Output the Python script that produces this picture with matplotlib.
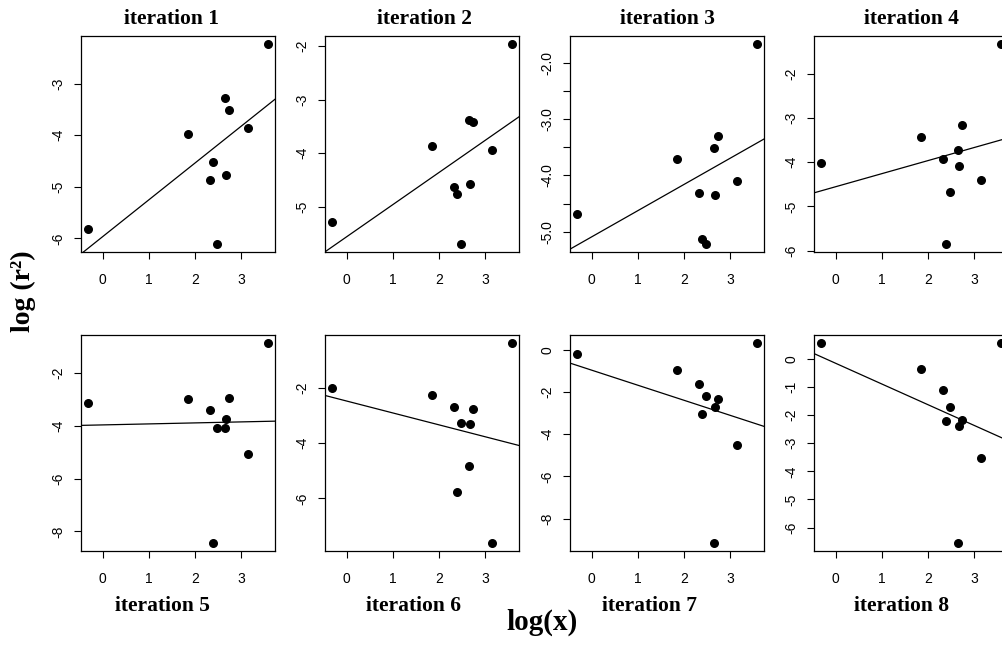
import numpy as np
import matplotlib
matplotlib.use("Agg")
import matplotlib.pyplot as plt

# shared x values (log x), same for every iteration
log_x = [-0.31, 1.85, 2.32, 2.40, 2.47, 2.65, 2.68, 2.73, 3.15, 3.58]

# log(r^2) for each iteration, in the order of log_x
iter1 = [-5.82, -3.97, -4.86, -4.51, -6.11, -3.27, -4.77, -3.51, -3.85, -2.23]
iter2 = [-5.29, -3.87, -4.63, -4.76, -5.70, -3.38, -4.57, -3.42, -3.95, -1.96]
iter3 = [-4.69, -3.70, -4.32, -5.13, -5.22, -3.52, -4.34, -3.29, -4.10, -1.66]
iter4 = [-4.01, -3.44, -3.94, -5.85, -4.68, -3.72, -4.09, -3.16, -4.40, -1.33]
iter5 = [-3.13, -3.00, -3.42, -8.44, -4.08, -4.08, -3.75, -2.96, -5.08, -0.87]
iter6 = [-1.98, -2.26, -2.70, -5.76, -3.26, -4.83, -3.31, -2.74, -7.62, -0.36]
iter7 = [-0.21, -0.98, -1.61, -3.02, -2.20, -9.15, -2.69, -2.34, -4.53, 0.32]
iter8 = [0.57, -0.36, -1.11, -2.21, -1.71, -6.55, -2.37, -2.16, -3.51, 0.57]
all_iters = [iter1, iter2, iter3, iter4, iter5, iter6, iter7, iter8]

titles = ["iteration %d" % (i + 1) for i in range(8)]

x_ticks = [0, 1, 2, 3]
y_ticks = [
    [-6, -5, -4, -3],
    [-5, -4, -3, -2],
    [-5.0, -4.5, -4.0, -3.5, -3.0, -2.5, -2.0],
    [-6, -5, -4, -3, -2],
    [-8, -6, -4, -2],
    [-6, -4, -2],
    [-8, -6, -4, -2, 0],
    [-6, -5, -4, -3, -2, -1, 0],
]

W, H = 1003, 645
fig = plt.figure(figsize=(W / 100, H / 100), dpi=100)

col_left = [81, 325, 570, 814]
row_top = [36, 335]
pw, ph = 194, 216
# title centres (pixels) as placed in the original
top_title_x = [172, 424, 667, 911]
bot_title_x = [162, 414, 649, 902]

serif = ["Liberation Serif", "DejaVu Serif"]
sans = ["Liberation Sans", "DejaVu Sans"]


def lims(v):
    lo, hi = min(v), max(v)
    pad = 0.04 * (hi - lo)
    return lo - pad, hi + pad


for k, yv in enumerate(all_iters):
    r, c = divmod(k, 4)
    ax = fig.add_axes([col_left[c] / W, 1 - (row_top[r] + ph) / H, pw / W, ph / H])
    ax.scatter(log_x, yv, s=30, color="black", zorder=3, clip_on=False)
    ax.set_xlim(*lims(log_x))
    ax.set_ylim(*lims(yv))

    # least squares line
    m, b = np.polyfit(log_x, yv, 1)
    ax.axline((0, b), slope=m, color="black", lw=0.9)

    ax.set_xticks(x_ticks)
    ax.set_xticklabels([str(t) for t in x_ticks], family=sans, fontsize=10)
    yt = y_ticks[k]
    ax.set_yticks(yt)
    if k == 2:
        labs = ["%.1f" % t if t == int(t) else "" for t in yt]
    else:
        labs = ["%d" % t for t in yt]
    ax.set_yticklabels(labs, family=sans, fontsize=10, rotation=90, va="center")
    ax.tick_params(axis="x", direction="out", length=5, width=0.8, pad=10)
    ax.tick_params(axis="y", direction="out", length=5, width=0.8, pad=6)
    for sp in ax.spines.values():
        sp.set_linewidth(0.9)

    if r == 0:
        fig.text(top_title_x[c] / W, 1 - 24 / H, titles[k], family=serif,
                 fontweight="bold", fontsize=15.5, ha="center", va="baseline")
    else:
        fig.text(bot_title_x[c] / W, 1 - 611 / H, titles[k], family=serif,
                 fontweight="bold", fontsize=15.5, ha="center", va="baseline")

fig.text(542 / W, 1 - 630 / H, "log(x)", family=serif, fontweight="bold",
         fontsize=21, ha="center", va="baseline")
fig.text(23 / W, 1 - 291 / H, "log (r\u00b2)", family=serif, fontweight="bold",
         fontsize=20, ha="center", va="center", rotation=90)

fig.savefig("out.png", dpi=100)
